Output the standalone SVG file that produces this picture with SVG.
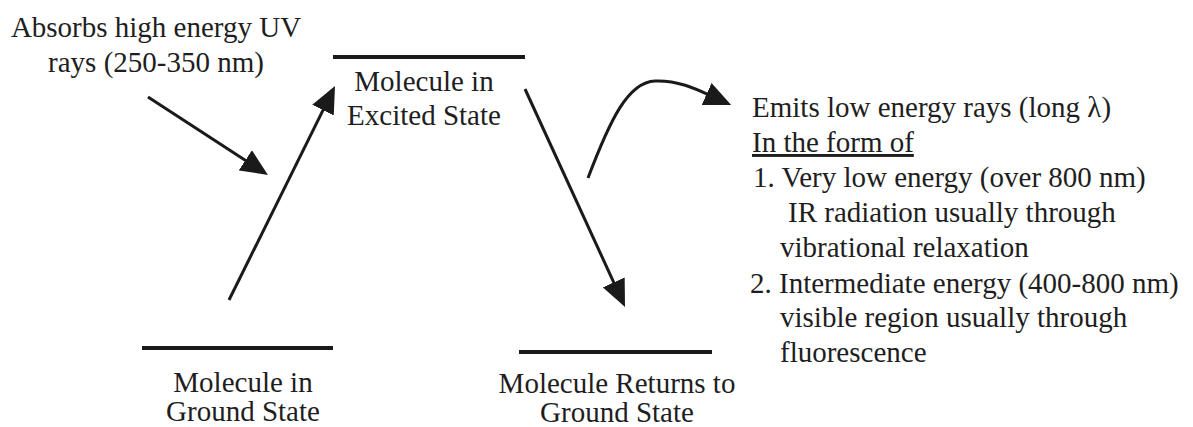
<svg xmlns="http://www.w3.org/2000/svg" width="1193" height="427" viewBox="0 0 1193 427">
<style>
text { fill: #1e1e1e; }
.c { text-anchor: middle; }
.level { stroke: #1a1a1a; stroke-width: 4; fill: none; }
.arrow { stroke: #1a1a1a; stroke-width: 3; fill: none; marker-end: url(#head); }
</style>
<defs>
<marker id="head" markerUnits="userSpaceOnUse" markerWidth="27" markerHeight="24" refX="9" refY="12" orient="auto">
<path d="M0,0 L27,12 L0,24 z" fill="#1a1a1a"/>
</marker>
</defs>
<rect width="1193" height="427" fill="#ffffff"/>

<g id="uv-label">
<text class="c" x="156" y="37" font-size="29" font-family="Liberation Serif, serif">Absorbs high energy UV</text>
<text class="c" x="156" y="72" font-size="29" font-family="Liberation Serif, serif">rays (250-350 nm)</text>
</g>

<g id="excited-state">
<line class="level" x1="333" y1="57" x2="525" y2="57"/>
<text class="c" x="424" y="91" font-size="29" font-family="Liberation Serif, serif">Molecule in</text>
<text class="c" x="424" y="125" font-size="29" font-family="Liberation Serif, serif">Excited State</text>
</g>

<g id="ground-state">
<line class="level" x1="142" y1="348" x2="333" y2="348"/>
<text class="c" x="243" y="392" font-size="29" font-family="Liberation Serif, serif">Molecule in</text>
<text class="c" x="243" y="421" font-size="29" font-family="Liberation Serif, serif">Ground State</text>
</g>

<g id="returns-ground">
<line class="level" x1="519" y1="352" x2="712" y2="352"/>
<text class="c" x="617" y="393" font-size="29" font-family="Liberation Serif, serif">Molecule Returns to</text>
<text class="c" x="617" y="422" font-size="29" font-family="Liberation Serif, serif">Ground State</text>
</g>

<g id="emission-text">
<text x="752" y="117" font-size="29" font-family="Liberation Serif, serif">Emits low energy rays (long λ)</text>
<text x="752" y="152" font-size="29" font-family="Liberation Serif, serif" text-decoration="underline">In the form of</text>
<text x="753" y="187" font-size="29" font-family="Liberation Serif, serif">1. Very low energy (over 800 nm)</text>
<text x="788" y="222" font-size="29" font-family="Liberation Serif, serif">IR radiation usually through</text>
<text x="780" y="257" font-size="29" font-family="Liberation Serif, serif">vibrational relaxation</text>
<text x="750" y="293" font-size="29" font-family="Liberation Serif, serif">2. Intermediate energy (400-800 nm)</text>
<text x="780" y="327" font-size="29" font-family="Liberation Serif, serif">visible region usually through</text>
<text x="780" y="362" font-size="29" font-family="Liberation Serif, serif">fluorescence</text>
</g>

<g id="connectors">
<line class="arrow" x1="148" y1="97" x2="252.9" y2="165.2"/>
<line class="arrow" x1="229" y1="300" x2="327" y2="102.1"/>
<line class="arrow" x1="525" y1="89" x2="617.5" y2="290.6"/>
<path class="arrow" d="M588,178 C610,120 628,82 655,81 C680,80 700,91 714.8,97.7"/>
</g>
</svg>
